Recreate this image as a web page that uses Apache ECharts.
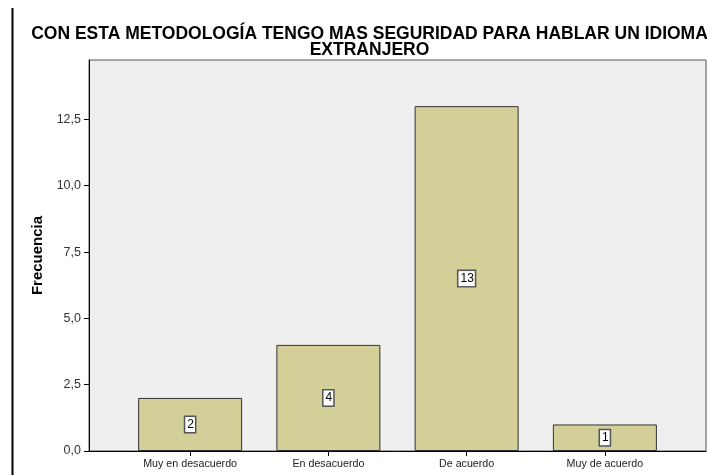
<!DOCTYPE html>
<html><head><meta charset="utf-8">
<script src="https://cdn.jsdelivr.net/npm/echarts@6/dist/echarts.min.js"></script>
<style>html,body{margin:0;padding:0;background:#fff}#c{width:707px;height:475px}</style>
</head><body><div id="c"></div>
<script>
const titleText = 'CON ESTA METODOLOGÍA TENGO MAS SEGURIDAD PARA HABLAR UN IDIOMA\nEXTRANJERO';
const categories = ['Muy en desacuerdo', 'En desacuerdo', 'De acuerdo', 'Muy de acuerdo'];
const frecuencia = [2, 4, 13, 1];
const yTicks = [0, 2.5, 5, 7.5, 10, 12.5];
const yAxisName = 'Frecuencia';

const FONT = '"Liberation Sans", Arial, sans-serif';
const chart = echarts.init(document.getElementById('c'), null, {renderer: 'canvas'});
const fmt = v => v.toFixed(1).replace('.', ',');
chart.setOption({
  animation: false,
  backgroundColor: '#ffffff',
  title: {
    text: titleText, left: 364.5, top: 21, textAlign: 'center',
    textStyle: {fontFamily: FONT, fontWeight: 'bold', fontSize: 17.5, color: '#000', lineHeight: 16}
  },
  graphic: [{type: 'line', shape: {x1: 12.5, y1: 8, x2: 12.5, y2: 475}, style: {stroke: '#000', lineWidth: 2}}],
  grid: [
    {left: 89, right: 1, top: 60, bottom: 24, show: true, backgroundColor: '#efefef', borderColor: '#555', borderWidth: 1},
    {left: 121, right: 33, top: 60, bottom: 24}
  ],
  xAxis: [
    {type: 'category', gridIndex: 0, data: [''], axisLine: {lineStyle: {color: '#000', width: 1}}, axisTick: {show: false}, axisLabel: {show: false}, splitLine: {show: false}},
    {type: 'category', gridIndex: 1, data: categories, axisLine: {show: false},
     axisTick: {show: true, alignWithLabel: true, length: 5, lineStyle: {color: '#000'}},
     axisLabel: {fontFamily: FONT, fontSize: 10.7, color: '#222', margin: 8}, splitLine: {show: false}}
  ],
  yAxis: [
    {type: 'value', gridIndex: 0, min: 0, max: 14.74, interval: 2.5,
     name: yAxisName, nameLocation: 'middle', nameGap: 44,
     nameTextStyle: {fontFamily: FONT, fontWeight: 'bold', fontSize: 15, color: '#000'},
     axisLine: {show: true, lineStyle: {color: '#000'}},
     axisTick: {show: true, length: 5, customValues: yTicks, lineStyle: {color: '#000'}},
     axisLabel: {fontFamily: FONT, fontSize: 12.5, color: '#333', margin: 8, customValues: yTicks, formatter: fmt},
     splitLine: {show: false}},
    {type: 'value', gridIndex: 1, min: 0, max: 14.74, show: false, splitLine: {show: false}}
  ],
  series: [{
    type: 'bar', xAxisIndex: 1, yAxisIndex: 1, data: frecuencia, barWidth: 104,
    itemStyle: {color: '#d3cf98', borderColor: '#333', borderWidth: 1},
    label: {show: true, position: 'inside', fontFamily: FONT, fontSize: 12, color: '#000',
            backgroundColor: '#fff', borderColor: '#555', borderWidth: 1.5, padding: [2, 1, 1, 2]}
  }]
});
</script></body></html>
